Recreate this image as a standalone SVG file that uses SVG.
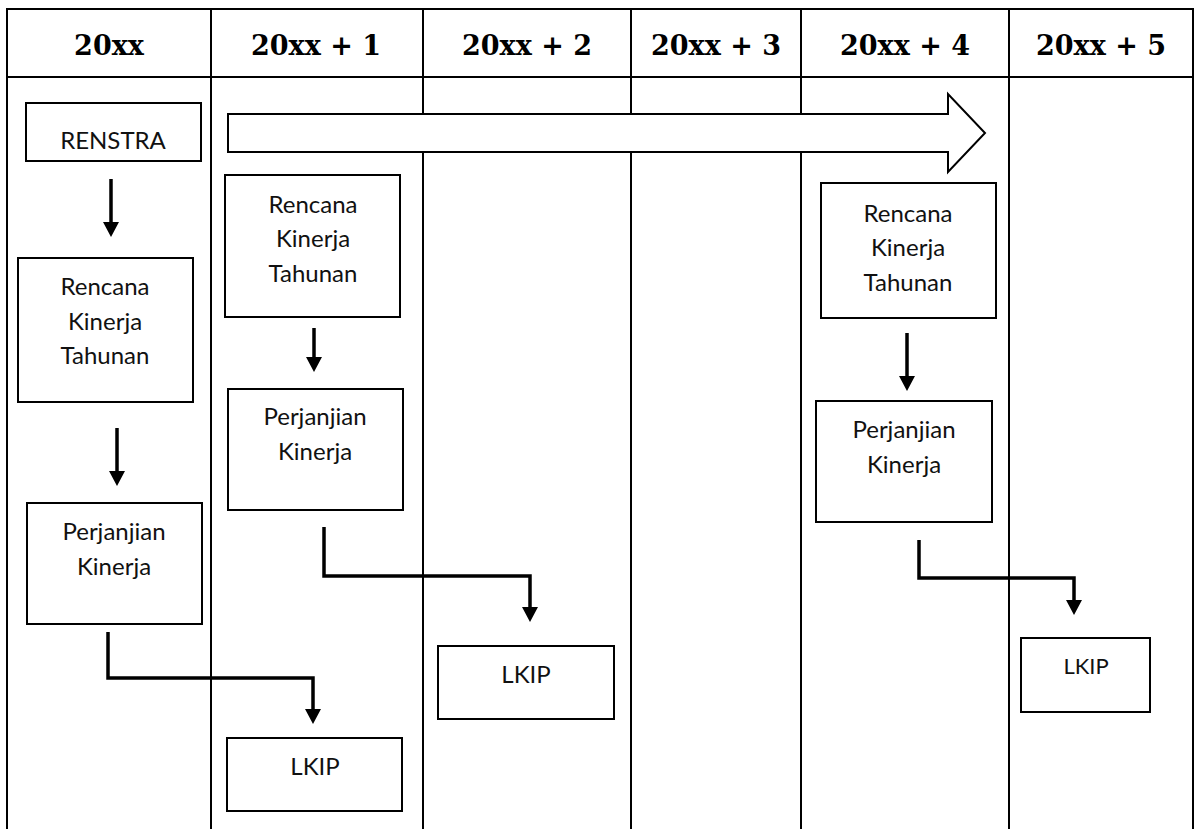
<svg xmlns="http://www.w3.org/2000/svg" width="1194" height="829" viewBox="0 0 1194 829">
  <style>
    .grid { stroke: #000; stroke-width: 2; fill: none; }
    .hdr { font-family: "DejaVu Serif", "Liberation Serif", serif; font-weight: bold; font-size: 27px; fill: #000; text-anchor: middle; }
    .box { fill: #fff; stroke: #000; stroke-width: 2; }
    .lbl { font-family: Lato, "Open Sans", "Liberation Sans", sans-serif; font-size: 24px; fill: #111; text-anchor: middle; }
    .conn { fill: none; stroke: #000; stroke-width: 3.5; stroke-linejoin: miter; }
    .block { fill: #fff; stroke: #000; stroke-width: 2; stroke-linejoin: miter; }
  </style>
  <defs>
    <marker id="ah" markerUnits="userSpaceOnUse" viewBox="0 0 15 16" markerWidth="15" markerHeight="16" refX="1" refY="8" orient="auto">
      <path d="M0,0 L15,8 L0,16 z" fill="#000"/>
    </marker>
  </defs>
  <rect width="1194" height="829" fill="#fff"/>

  <g id="table">
    <line class="grid" x1="6" y1="9" x2="1194" y2="9"/>
    <line class="grid" x1="6" y1="77" x2="1194" y2="77"/>
    <line class="grid" x1="7" y1="8" x2="7" y2="829"/>
    <line class="grid" x1="211" y1="8" x2="211" y2="829"/>
    <line class="grid" x1="423" y1="8" x2="423" y2="829"/>
    <line class="grid" x1="631" y1="8" x2="631" y2="829"/>
    <line class="grid" x1="801" y1="8" x2="801" y2="829"/>
    <line class="grid" x1="1009" y1="8" x2="1009" y2="829"/>
    <line class="grid" x1="1193" y1="8" x2="1193" y2="829"/>
    <text class="hdr" x="109" y="55">20xx</text>
    <text class="hdr" x="316" y="55">20xx + 1</text>
    <text class="hdr" x="527" y="55">20xx + 2</text>
    <text class="hdr" x="716" y="55">20xx + 3</text>
    <text class="hdr" x="905" y="55">20xx + 4</text>
    <text class="hdr" x="1101" y="55">20xx + 5</text>
  </g>

  <g id="connectors">
    <path id="period-arrow" class="block" d="M228,114 L948,114 L948,94 L985,133 L948,172 L948,152 L228,152 Z"/>
    <line class="conn" x1="111" y1="179" x2="111" y2="223" marker-end="url(#ah)"/>
    <line class="conn" x1="117" y1="428" x2="117" y2="472" marker-end="url(#ah)"/>
    <polyline class="conn" points="108,632 108,678 313,678 313,710" marker-end="url(#ah)"/>
    <line class="conn" x1="314" y1="328" x2="314" y2="358" marker-end="url(#ah)"/>
    <polyline class="conn" points="324,527 324,576 530,576 530,608" marker-end="url(#ah)"/>
    <line class="conn" x1="907" y1="333" x2="907" y2="377" marker-end="url(#ah)"/>
    <polyline class="conn" points="919,540 919,578 1074,578 1074,601" marker-end="url(#ah)"/>
  </g>

  <g id="renstra">
    <rect class="box" x="26" y="103" width="175" height="58"/>
    <text class="lbl" x="113" y="149">RENSTRA</text>
  </g>

  <g id="rkt-1">
    <rect class="box" x="18" y="258" width="175" height="144"/>
    <text class="lbl" x="105" y="295">Rencana</text>
    <text class="lbl" x="105" y="330">Kinerja</text>
    <text class="lbl" x="105" y="364">Tahunan</text>
  </g>

  <g id="pk-1">
    <rect class="box" x="27" y="503" width="175" height="121"/>
    <text class="lbl" x="114" y="540">Perjanjian</text>
    <text class="lbl" x="114" y="575">Kinerja</text>
  </g>

  <g id="rkt-2">
    <rect class="box" x="225" y="175" width="175" height="142"/>
    <text class="lbl" x="313" y="213">Rencana</text>
    <text class="lbl" x="313" y="247">Kinerja</text>
    <text class="lbl" x="313" y="282">Tahunan</text>
  </g>

  <g id="pk-2">
    <rect class="box" x="228" y="389" width="175" height="121"/>
    <text class="lbl" x="315" y="425">Perjanjian</text>
    <text class="lbl" x="315" y="460">Kinerja</text>
  </g>

  <g id="lkip-1">
    <rect class="box" x="227" y="738" width="175" height="73"/>
    <text class="lbl" x="315" y="775">LKIP</text>
  </g>

  <g id="lkip-2">
    <rect class="box" x="438" y="646" width="176" height="73"/>
    <text class="lbl" x="526" y="683">LKIP</text>
  </g>

  <g id="rkt-5">
    <rect class="box" x="821" y="183" width="175" height="135"/>
    <text class="lbl" x="908" y="222">Rencana</text>
    <text class="lbl" x="908" y="256">Kinerja</text>
    <text class="lbl" x="908" y="291">Tahunan</text>
  </g>

  <g id="pk-5">
    <rect class="box" x="816" y="401" width="176" height="121"/>
    <text class="lbl" x="904" y="438">Perjanjian</text>
    <text class="lbl" x="904" y="473">Kinerja</text>
  </g>

  <g id="lkip-5">
    <rect class="box" x="1021" y="638" width="129" height="74"/>
    <text class="lbl" x="1086" y="674" style="font-size:22px">LKIP</text>
  </g>
</svg>
